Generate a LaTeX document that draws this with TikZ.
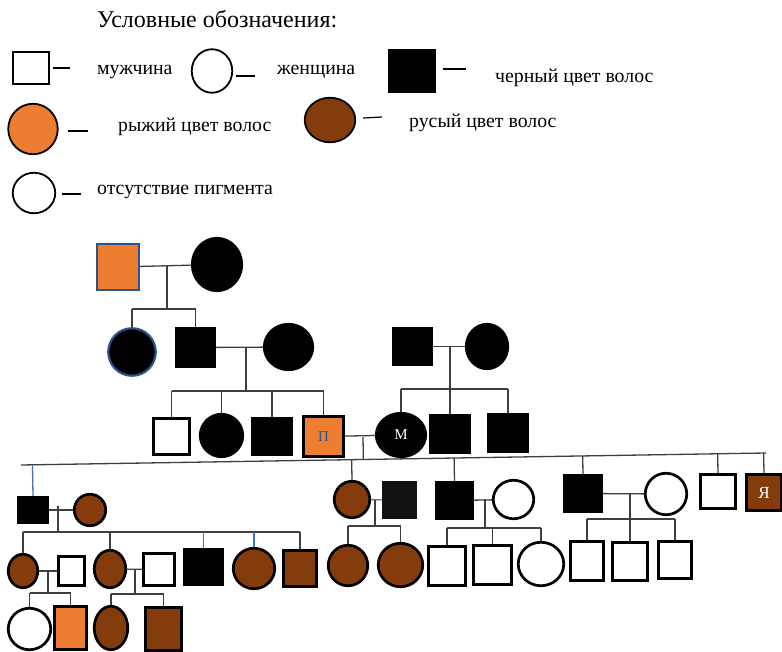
\documentclass[tikz,border=0pt]{standalone}
\usepackage{fontspec}
\setmainfont{Liberation Serif}
\usetikzlibrary{shapes.geometric,calc}
\definecolor{orng}{HTML}{ED7D31}
\definecolor{brwn}{HTML}{843C0C}
\definecolor{navy}{HTML}{2F528F}
\definecolor{conn}{HTML}{3F3F3F}
\definecolor{blu}{HTML}{4472C4}
\definecolor{nearblk}{HTML}{111111}
\tikzset{
  man/.style={rectangle, draw=black, line width=2.7pt, inner sep=0pt},
  woman/.style={ellipse, draw=black, line width=2.7pt, inner sep=0pt},
  sz/.style 2 args={minimum width={#1pt-2.5pt}, minimum height={#2pt-2.5pt}},
  blk/.style={fill=black},
  wht/.style={fill=white},
  org/.style={fill=orng},
  brn/.style={fill=brwn},
  link/.style={draw=conn, line width=1.3pt},
  bluelink/.style={draw=blu, line width=1.3pt},
  lgdshape/.style={line width=1.8pt},
  dashline/.style={draw=black, line width=1.2pt},
  lbl/.style={anchor=base west, inner sep=0pt, font=\fontsize{19.8}{23}\selectfont},
  ttl/.style={anchor=base west, inner sep=0pt, font=\fontsize{24}{28}\selectfont},
  tag/.style={font=\fontsize{15}{17}\selectfont},
}
\begin{document}
\begin{tikzpicture}[x=1pt,y=-1pt]
\useasboundingbox[fill=white] (0,0) rectangle (782,652);

% ---------------- legend ----------------
\node[ttl] (title) at (97,28) {Условные обозначения:};
\node[man,wht,lgdshape,sz={38}{35}] (Lm) at (31,68) {};
\draw[dashline] ([xshift=3pt]Lm.east) -- ++(17,0);
\node[lbl] (tm) at (97,75) {мужчина};
\node[woman,wht,lgdshape,sz={43}{46}] (Lf) at (212,71) {};
\draw[dashline] ([xshift=3pt,yshift=-5pt]Lf.east) -- ++(19,0);
\node[lbl] (tf) at (277,75) {женщина};
\node[man,blk,lgdshape,sz={48}{44}] (Lb) at (412,71) {};
\draw[dashline] ([xshift=7pt,yshift=2pt]Lb.east) -- ++(23,0);
\node[lbl] (tb) at (495,83) {черный цвет волос};
\node[woman,org,lgdshape,sz={52}{53}] (Lo) at (33,129) {};
\draw[dashline] ([xshift=9pt,yshift=-2pt]Lo.east) -- ++(20,0);
\node[lbl] (to) at (118,132) {рыжий цвет волос};
\node[woman,brn,lgdshape,sz={53}{47}] (Lr) at (330,120) {};
\draw[dashline] ([xshift=7pt,yshift=2pt]Lr.east) -- ++(19,-1);
\node[lbl] (tr) at (409,128) {русый цвет волос};
\node[woman,wht,lgdshape,sz={45}{43}] (Lw) at (34,193) {};
\draw[dashline] ([xshift=6pt,yshift=-1pt]Lw.east) -- ++(19,0);
\node[lbl] (tw) at (97,195) {отсутствие пигмента};

% ---------------- generation 1 ----------------
\node[man,org,draw=navy,line width=2.2pt,sz={44}{48}] (g1m) at (118,267) {};
\node[woman,blk,sz={52}{55}] (g1f) at (217,264.5) {};

% ---------------- generation 2 ----------------
\node[woman,blk,draw=navy,line width=2.2pt,sz={50}{50}] (g2a) at (132,352) {};
\node[man,blk,sz={41}{41}] (g2b) at (195.5,347.5) {};
\node[woman,blk,sz={51}{48}] (g2c) at (288.5,347) {};
\node[man,blk,sz={41}{39}] (g2d) at (412.5,346.5) {};
\node[woman,blk,sz={44}{47}] (g2e) at (487,346.5) {};

% ---------------- generation 3 ----------------
\node[man,wht,sz={39}{39}] (g3a) at (171.5,436.5) {};
\node[woman,blk,sz={45}{45}] (g3b) at (221.5,435.5) {};
\node[man,blk,sz={42}{39}] (g3c) at (272,436.5) {};
\node[man,org,sz={43}{43},tag,text=navy] (g3d) at (323.5,436.5) {П};
\node[woman,blk,sz={52}{46},tag,text=white] (g3e) at (401,435) {М};
\node[man,blk,sz={42}{40}] (g3f) at (450,434) {};
\node[man,blk,sz={42}{40}] (g3g) at (508,433) {};

% ---------------- generation 4 ----------------
\node[man,blk,sz={32}{28}] (g4a) at (33,510) {};
\node[woman,brn,sz={34}{34}] (g4b) at (90,510) {};
\node[woman,brn,sz={38}{39}] (g4c) at (352,499.5) {};
\node[man,fill=nearblk,draw=nearblk,sz={35}{38}] (g4d) at (399.5,500) {};
\node[man,blk,sz={39}{39}] (g4e) at (454.5,500.5) {};
\node[woman,wht,sz={43}{41}] (g4f) at (513.5,499.5) {};
\node[man,blk,sz={40}{39}] (g4g) at (583,493.5) {};
\node[woman,wht,sz={44}{44}] (g4h) at (666,494) {};
\node[man,wht,sz={38}{37}] (g4i) at (718,491.5) {};
\node[man,brn,sz={38}{39},font=\fontsize{17}{19}\selectfont,text=white] (g4j) at (764,492.5) {Я};

% ---------------- generation 5 ----------------
\node[woman,brn,sz={32}{36}] (g5a) at (23,571) {};
\node[man,wht,sz={29}{32}] (g5b) at (71.5,571) {};
\node[woman,brn,sz={34}{40}] (g5c) at (110,569) {};
\node[man,wht,sz={34}{35}] (g5d) at (159,569.5) {};
\node[man,blk,sz={41}{38}] (g5e) at (203.5,567) {};
\node[woman,brn,sz={44}{43}] (g5f) at (254,568.5) {};
\node[man,brn,sz={36}{39}] (g5g) at (300,568.5) {};
\node[woman,brn,sz={42}{43}] (g5h) at (348,565.5) {};
\node[woman,brn,sz={47}{46}] (g5i) at (400.5,565) {};
\node[man,wht,sz={40}{42}] (g5j) at (447,566) {};
\node[man,wht,sz={41}{42}] (g5k) at (492.5,565) {};
\node[woman,wht,sz={48}{46}] (g5l) at (541,564) {};
\node[man,wht,sz={36}{42}] (g5m) at (587,561) {};
\node[man,wht,sz={38}{41}] (g5n) at (630,561.5) {};
\node[man,wht,sz={36}{40}] (g5o) at (675,560) {};

% ---------------- generation 6 ----------------
\node[woman,wht,sz={45}{44}] (g6a) at (29.5,629) {};
\node[man,org,sz={35}{45}] (g6b) at (70.5,628) {};
\node[woman,brn,sz={36}{46}] (g6c) at (111,628) {};
\node[man,brn,sz={39}{45}] (g6d) at (163.5,629) {};

% ---------------- connectors ----------------
% G1 couple -> G2
\draw[link] (g1m) -- (g1f);
\coordinate (j1) at (167,265.5);
\coordinate (b1) at (0,309);
\draw[link] (j1) -- (j1 |- b1);
\draw[link] (g2a.north |- b1) -- (g2b.north |- b1);
\foreach \c in {g2a,g2b} \draw[link] (\c.north) -- (\c.north |- b1);

% G2 left couple -> G3 left
\draw[link] (g2b) -- (g2c);
\coordinate (j2) at (246,347);
\coordinate (b2) at (0,391);
\draw[link] (j2) -- (j2 |- b2);
\draw[link] (g3a.north |- b2) -- (g3d.north |- b2);
\foreach \c in {g3a,g3b,g3c,g3d} \draw[link] (\c.north) -- (\c.north |- b2);

% G2 right couple -> G3 right
\draw[link] (g2d) -- (g2e);
\coordinate (j3) at (450,346);
\coordinate (b3) at (0,389);
\draw[link] (j3) -- (j3 |- b3);
\draw[link] (g3e.north |- b3) -- (g3g.north |- b3);
\foreach \c in {g3e,g3g} \draw[link] (\c.north) -- (\c.north |- b3);
\draw[link] (j3 |- b3) -- (g3f.north);

% P - M couple -> G4
\draw[link] (g3d) -- (g3e);
\coordinate (j4) at (363,437);
\coordinate (bigL) at (21,465);
\coordinate (bigR) at (766,453);
\draw[link] (bigL) -- (bigR);
\draw[link] (j4) -- ($(bigL)!(j4)!(bigR)$);
\draw[bluelink] (g4a.north) -- ($(bigL)!(g4a.north)!(bigR)$);
\foreach \c in {g4c,g4e,g4g,g4i,g4j} \draw[link] (\c.north) -- ($(bigL)!(\c.north)!(bigR)$);

% G4 couple (g4a,g4b) -> G5
\draw[link] (g4a) -- (g4b);
\coordinate (j5) at (58,506);
\coordinate (b5) at (0,532);
\draw[link] (j5) -- (j5 |- b5);
\draw[link] (g5a.north |- b5) -- (g5g.north |- b5);
\foreach \c in {g5a,g5c,g5g} \draw[link] (\c.north) -- (\c.north |- b5);
\foreach \c in {g5e,g5f} \draw[bluelink] (\c.north) -- (\c.north |- b5);

% G4 couple (g4c,g4d)
\draw[bluelink] (g4c) -- (g4d);
\coordinate (j6) at (375,500);
\coordinate (b6) at (0,526);
\draw[link] (j6) -- (j6 |- b6);
\draw[link] (g5h.north |- b6) -- (g5i.north |- b6);
\foreach \c in {g5h,g5i} \draw[link] (\c.north) -- (\c.north |- b6);

% G4 couple (g4e,g4f)
\draw[link] (g4e) -- (g4f);
\coordinate (j7) at (485,499);
\coordinate (b7) at (0,528);
\draw[link] (j7) -- (j7 |- b7);
\draw[link] (g5j.north |- b7) -- (g5l.north |- b7);
\foreach \c in {g5j,g5k,g5l} \draw[link] (\c.north) -- (\c.north |- b7);

% G4 couple (g4g,g4h)
\draw[link] (g4g) -- (g4h);
\coordinate (j8) at (630,493);
\coordinate (b8) at (0,519);
\draw[link] (j8) -- (g5n.north);
\draw[link] (g5m.north |- b8) -- (g5o.north |- b8);
\foreach \c in {g5m,g5o} \draw[link] (\c.north) -- (\c.north |- b8);

% G5 couple (g5a,g5b) -> G6
\draw[link] (g5a) -- (g5b);
\coordinate (j9) at (48,571);
\coordinate (b9) at (0,593);
\draw[link] (j9) -- (j9 |- b9);
\draw[link] (g6a.north |- b9) -- (g6b.north |- b9);
\foreach \c in {g6a,g6b} \draw[link] (\c.north) -- (\c.north |- b9);

% G5 couple (g5c,g5d) -> G6
\draw[link] (g5c) -- (g5d);
\coordinate (j10) at (135,569);
\coordinate (b10) at (0,594);
\draw[link] (j10) -- (j10 |- b10);
\draw[link] (g6c.north |- b10) -- (g6d.north |- b10);
\foreach \c in {g6c,g6d} \draw[link] (\c.north) -- (\c.north |- b10);
\end{tikzpicture}
\end{document}
